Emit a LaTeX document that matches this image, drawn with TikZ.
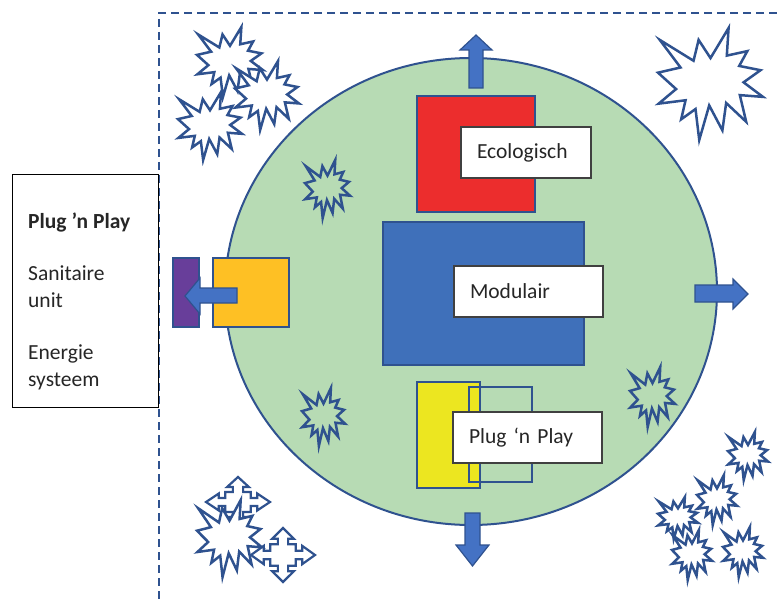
\documentclass[tikz,border=0pt]{standalone}
\usepackage{fontspec}
\setmainfont{Carlito}
\usetikzlibrary{shapes.geometric}
\definecolor{oblue}{RGB}{47,82,143}
\definecolor{ablue}{RGB}{68,114,196}
\definecolor{mblue}{RGB}{63,112,186}
\definecolor{cgreen}{RGB}{183,219,180}
\definecolor{cred}{RGB}{236,45,45}
\definecolor{cyellow}{RGB}{236,230,32}
\definecolor{corange}{RGB}{254,192,36}
\definecolor{cpurple}{RGB}{104,62,154}
\definecolor{tgray}{RGB}{64,64,64}
\definecolor{tcol}{RGB}{38,38,38}
\begin{document}
\begin{tikzpicture}[x=1pt,y=-1pt,
  outl/.style={draw=oblue, line width=1.5pt},
  starline/.style={draw=oblue, line width=2.5pt},
  quadline/.style={draw=oblue, line width=2.2pt},
  blockarrow/.style={fill=ablue, draw=oblue, line width=1.2pt},
  dashline/.style={draw=oblue, line width=2pt, dash pattern=on 8pt off 5pt},
  rectbox/.style={rectangle, outl, inner sep=0pt},
  txtbox/.style={rectangle, draw=tgray, fill=white, line width=1.2pt, align=left,
     inner xsep=16pt, inner ysep=0pt, minimum height=51pt,
     font=\fontsize{21.5}{26}\selectfont, text=tcol},
  expl/.pic={\path[pic actions] (50,26.85) -- (67.23,0) -- (65.53,24.65) -- (85.09,20.63) -- (77.32,33.87)
     -- (97.67,37.67) -- (81.51,48.50) -- (100,61.53) -- (77.95,59.92) -- (84.00,83.77)
     -- (64.91,66.93) -- (61.33,91.38) -- (48.76,69.14) -- (39.28,100) -- (35.72,72.35)
     -- (22.05,81.56) -- (26.24,64.52) -- (0.63,67.53) -- (17.23,54.51) -- (0,39.88)
     -- (21.42,35.26) -- (1.71,10.63) -- (33.85,29.26) -- (38.67,10.63) -- cycle;},
  quad/.pic={\path[pic actions] (0,-1) -- (0.34,-0.6) -- (0.16,-0.6) -- (0.16,-0.4) -- (0.4,-0.4)
     -- (0.4,-0.16) -- (0.6,-0.16) -- (0.6,-0.34) -- (1,0) -- (0.6,0.34) -- (0.6,0.16) -- (0.4,0.16)
     -- (0.4,0.4) -- (0.16,0.4) -- (0.16,0.6) -- (0.34,0.6) -- (0,1) -- (-0.34,0.6) -- (-0.16,0.6)
     -- (-0.16,0.4) -- (-0.4,0.4) -- (-0.4,0.16) -- (-0.6,0.16) -- (-0.6,0.34) -- (-1,0)
     -- (-0.6,-0.34) -- (-0.6,-0.16) -- (-0.4,-0.16) -- (-0.4,-0.4) -- (-0.16,-0.4) -- (-0.16,-0.6)
     -- (-0.34,-0.6) -- cycle;}
]
\useasboundingbox (0,0) rectangle (777,602);

% dashed boundary
\coordinate (dtr) at (777,13);
\coordinate (dtl) at (159,13);
\coordinate (dbl) at (159,602);
\draw[dashline] (dtr) -- (dtl) -- (dbl);

% big circle
\node[ellipse, fill=cgreen, draw=oblue, line width=2pt, minimum width=492pt, minimum height=467pt, inner sep=0pt] (circ) at (471,291.5) {};

% stars outside
\pic[starline, fill=white, xscale=0.64, yscale=0.68] at (178,92) {expl};
\pic[starline, fill=white, xscale=0.66, yscale=0.70] at (197,27) {expl};
\pic[starline, fill=white, xscale=0.64, yscale=0.69] at (235,61) {expl};
\pic[starline, fill=white, xscale=1.05, yscale=1.12] at (658,28) {expl};
\pic[starline, fill=white, xscale=0.40, yscale=0.48] at (728,432) {expl};
\pic[starline, fill=white, xscale=0.40, yscale=0.50] at (697,475) {expl};
\pic[starline, fill=white, xscale=0.40, yscale=0.42] at (658,497) {expl};
\pic[starline, fill=white, xscale=0.40, yscale=0.50] at (672,530) {expl};
\pic[starline, fill=white, xscale=0.40, yscale=0.50] at (723,527) {expl};
% bottom-left group
\pic[quadline, fill=white, xscale=32, yscale=25] at (238,502) {quad};
\pic[starline, fill=white, xscale=0.65, yscale=0.77] at (197,500) {expl};
\pic[quadline, fill=white, xscale=32, yscale=27] at (283,555) {quad};
% stars inside circle
\pic[starline, xscale=0.45, yscale=0.58] at (305,160) {expl};
\pic[starline, xscale=0.43, yscale=0.58] at (302,388) {expl};
\pic[starline, xscale=0.45, yscale=0.60] at (630,367) {expl};

% rectangles
\node[rectbox, fill=cred, minimum width=118pt, minimum height=116pt] (red) at (476,154) {};
\node[rectbox, fill=mblue, minimum width=201pt, minimum height=143pt] (mod) at (483.5,293.5) {};
\node[rectbox, fill=cyellow, minimum width=63pt, minimum height=106pt] (yel) at (448.5,435) {};
\node[rectbox, minimum width=63pt, minimum height=95pt] (yout) at (500.5,434.5) {};
\node[rectbox, fill=cpurple, minimum width=26pt, minimum height=69pt] (pur) at (186,292.5) {};
\node[rectbox, fill=corange, minimum width=76pt, minimum height=69pt] (ora) at (251,292.5) {};

% block arrows
\draw[blockarrow] (469,88) -- (469,50) -- (460,50) -- (476,35) -- (492,50) -- (483,50) -- (483,88) -- cycle;
\draw[blockarrow] (465,513) -- (465,545) -- (456,545) -- (472.5,566) -- (489,545) -- (480,545) -- (480,513) -- cycle;
\draw[blockarrow] (695,285) -- (733,285) -- (733,279) -- (748,294) -- (733,309) -- (733,302) -- (695,302) -- cycle;
\draw[blockarrow] (237,288) -- (200,288) -- (200,278) -- (185,296) -- (200,314) -- (200,303) -- (237,303) -- cycle;

% text boxes
\node[txtbox, text width=98pt] (eco) at (526,152.5) {Ecologisch};
\node[txtbox, text width=117pt] (modt) at (528.5,291.5) {Modulair};
\node[txtbox, text width=117pt] (pnp) at (527.5,437.5) {Plug ‘n Play};

% left info box
\node[rectangle, draw=black, line width=1pt, fill=white, minimum width=146pt, minimum height=233pt] (lbox) at (85,290.5) {};
\node[anchor=west, align=left, inner sep=0pt, font=\fontsize{21.5}{27}\selectfont, text=tcol] (ltext) at (28,301)
  {\textbf{Plug ’n Play}\\[25pt]Sanitaire\\unit\\[25pt]Energie\\systeem};
\end{tikzpicture}
\end{document}
